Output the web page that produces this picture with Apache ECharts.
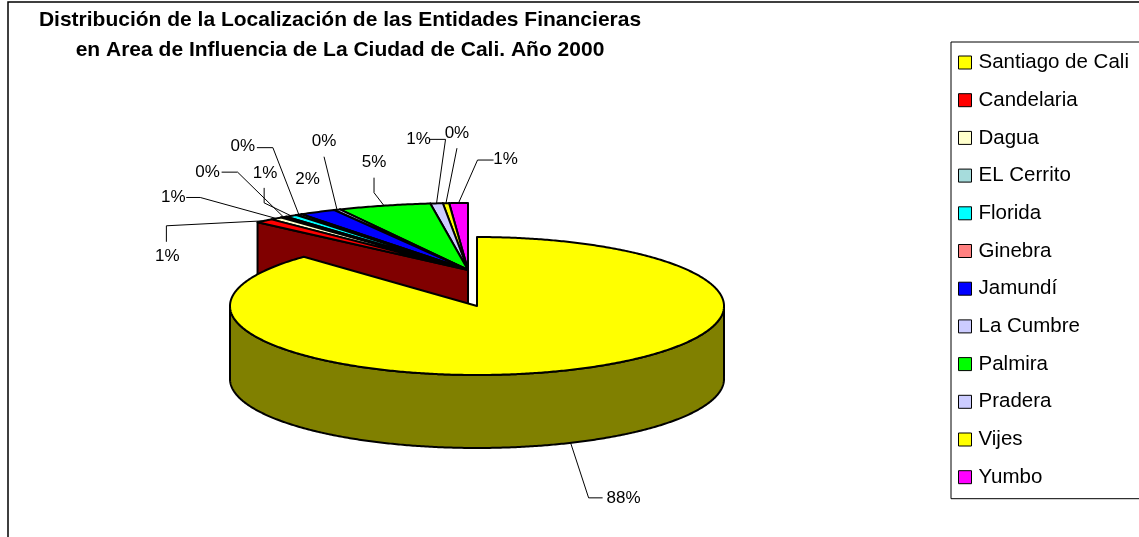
<!DOCTYPE html>
<html>
<head>
<meta charset="utf-8">
<script src="https://cdn.jsdelivr.net/npm/echarts@6/dist/echarts.min.js"></script>
<style>
  html, body { margin: 0; padding: 0; background: #fff; }
  #chart { width: 1139px; height: 537px; }
</style>
</head>
<body>
<div id="chart"></div>
<script>
// ---- data ----
const categories = ['Santiago de Cali', 'Candelaria', 'Dagua', 'EL Cerrito', 'Florida', 'Ginebra',
                    'Jamundí', 'La Cumbre', 'Palmira', 'Pradera', 'Vijes', 'Yumbo'];
const entidades = [262, 3, 2, 1, 2, 1, 6, 1, 15, 2, 1, 3];
const titleLines = ['Distribución de la Localización de las Entidades Financieras',
                    'en Area de Influencia de La Ciudad de Cali. Año 2000'];

// ---- styles ----
const topColors  = ['#ffff00', '#ff0000', '#ffffcc', '#a6dcdc', '#00ffff', '#ff8080',
                    '#0000ff', '#ccccff', '#00ff00', '#ccccff', '#ffff00', '#ff00ff'];
const sideColors = ['#808000', '#800000', '#808066', '#537070', '#008080', '#804040',
                    '#000080', '#666680', '#008000', '#666680', '#808000', '#800080'];

// pie geometry: first slice pulled forward, the rest stay in the back
const frontDisc = { cx: 477, cy: 306, rx: 247, ry: 69 };
const backDisc  = { cx: 468, cy: 270, rx: 300, ry: 67 };
const depth = 73;

// label placement relative to each slice's anchor: [dx, dy, elbowDx, elbowDy, endDx, endDy]
const labelLayout = [
  [53, 55, -35, 0, -21, 0],
  [-97, 36, -1, -31, -1, -15],
  [-103, -21, 27, 0, 13, 0],
  [-76, -45, 30, 0, 14, 0],
  [-26, -43, -1, 30, -1, 15],
  [-56, -68, 30, 1, 14, 1],
  [-10, -33],
  [-13, -68, 0, 15, 0, 15],
  [-10, -43, 0, 30, 0, 15],
  [-18, -64, 27, 0, 11, 0],
  [11, -70, 0, 15, 0, 15],
  [47, -44, -28, 1, -12, 1]
];

const total = entidades.reduce((a, b) => a + b, 0);
const startDeg = [], endDeg = [];
let acc = 0;
entidades.forEach(v => { startDeg.push(acc / total * 360); acc += v; endDeg.push(acc / total * 360); });

function pt(g, deg, dy) {
  const r = deg * Math.PI / 180;
  return [g.cx + g.rx * Math.sin(r), g.cy - g.ry * Math.cos(r) + (dy || 0)];
}
function arc(g, a0, a1, dy) {
  const pts = [];
  const n = Math.max(2, Math.ceil(Math.abs(a1 - a0) / 0.5));
  for (let k = 0; k <= n; k++) pts.push(pt(g, a0 + (a1 - a0) * k / n, dy));
  return pts;
}

const edge = { stroke: '#000', lineWidth: 2, lineJoin: 'round' };

function renderItem(params, api) {
  const i = params.dataIndex;
  const value = api.value(0);
  const a0 = startDeg[i], a1 = endDeg[i];
  const mid = (a0 + a1) / 2;
  const children = [];
  let anchor;

  if (i === 0) {
    const g = frontDisc;
    // outer wall on the visible front half
    const w0 = Math.max(a0, 90), w1 = Math.min(a1, 270);
    if (w1 > w0) {
      const wall = arc(g, w0, w1, 0).concat(arc(g, w1, w0, depth));
      children.push({ type: 'polygon', z2: 50, shape: { points: wall },
        style: Object.assign({ fill: sideColors[i] }, edge) });
    }
    children.push({ type: 'polygon', z2: 51,
      shape: { points: [[g.cx, g.cy]].concat(arc(g, a0, a1, 0)) },
      style: Object.assign({ fill: topColors[i] }, edge) });
    anchor = pt(g, mid, depth);
  } else {
    const g = backDisc;
    const order = 10 + (entidades.length - i) * 2;
    const A = [g.cx, g.cy];
    const R = pt(g, a0, 0);
    children.push({ type: 'polygon', z2: order,
      shape: { points: [A, R, [R[0], R[1] + depth], [A[0], A[1] + depth]] },
      style: Object.assign({ fill: sideColors[i] }, edge) });
    children.push({ type: 'polygon', z2: order + 1,
      shape: { points: [A].concat(arc(g, a0, a1, 0)) },
      style: Object.assign({ fill: topColors[i] }, edge) });
    anchor = pt(g, mid, 0);
  }

  const lay = labelLayout[i];
  const tx = anchor[0] + lay[0], ty = anchor[1] + lay[1];
  if (lay.length > 2) {
    children.push({ type: 'polyline', z2: 60,
      shape: { points: [anchor, [tx + lay[2], ty + lay[3]], [tx + lay[4], ty + lay[5]]] },
      style: { stroke: '#000', lineWidth: 1, fill: null } });
  }
  children.push({ type: 'text', z2: 61, x: tx, y: ty,
    style: { text: Math.round(value / total * 100) + '%', align: 'center', verticalAlign: 'middle',
             font: '17px "Liberation Sans", Arial, sans-serif', fill: '#000' } });

  return { type: 'group', children: children };
}

const chart = echarts.init(document.getElementById('chart'));
chart.setOption({
  animation: false,
  backgroundColor: '#fff',
  graphic: [
    { type: 'rect', z: 0, shape: { x: 8, y: 2, width: 1200, height: 600 },
      style: { fill: 'none', stroke: '#000', lineWidth: 1.5 } },
    { type: 'text', x: 340, y: 20, style: { text: titleLines[0], align: 'center', verticalAlign: 'middle',
      font: 'bold 21px "Liberation Sans", Arial, sans-serif', fill: '#000' } },
    { type: 'text', x: 340, y: 50, style: { text: titleLines[1], align: 'center', verticalAlign: 'middle',
      font: 'bold 21px "Liberation Sans", Arial, sans-serif', fill: '#000' } }
  ],
  legend: {
    data: categories,
    orient: 'vertical',
    left: 951,
    top: 42,
    padding: [10, 12, 11, 7],
    itemWidth: 13,
    itemHeight: 13,
    itemGap: 16.7,
    icon: 'rect',
    selectedMode: false,
    borderColor: '#000',
    borderWidth: 1,
    itemStyle: { borderColor: '#000', borderWidth: 1 },
    textStyle: { fontFamily: '"Liberation Sans", Arial, sans-serif', fontSize: 20.5, lineHeight: 20, color: '#000', padding: [0, 0, 0, 2] }
  },
  series: [
    {
      type: 'custom',
      coordinateSystem: 'none',
      silent: true,
      data: categories.map((c, i) => ({ name: c, value: entidades[i] })),
      renderItem: renderItem
    },
    {
      // carries the legend swatches; drawn off-canvas
      type: 'pie',
      silent: true,
      center: [-300, -300],
      radius: [0, 1],
      label: { show: false },
      labelLine: { show: false },
      data: categories.map((c, i) => ({ name: c, value: entidades[i],
        itemStyle: { color: topColors[i], borderColor: '#000', borderWidth: 1 } }))
    }
  ]
});
</script>
</body>
</html>
